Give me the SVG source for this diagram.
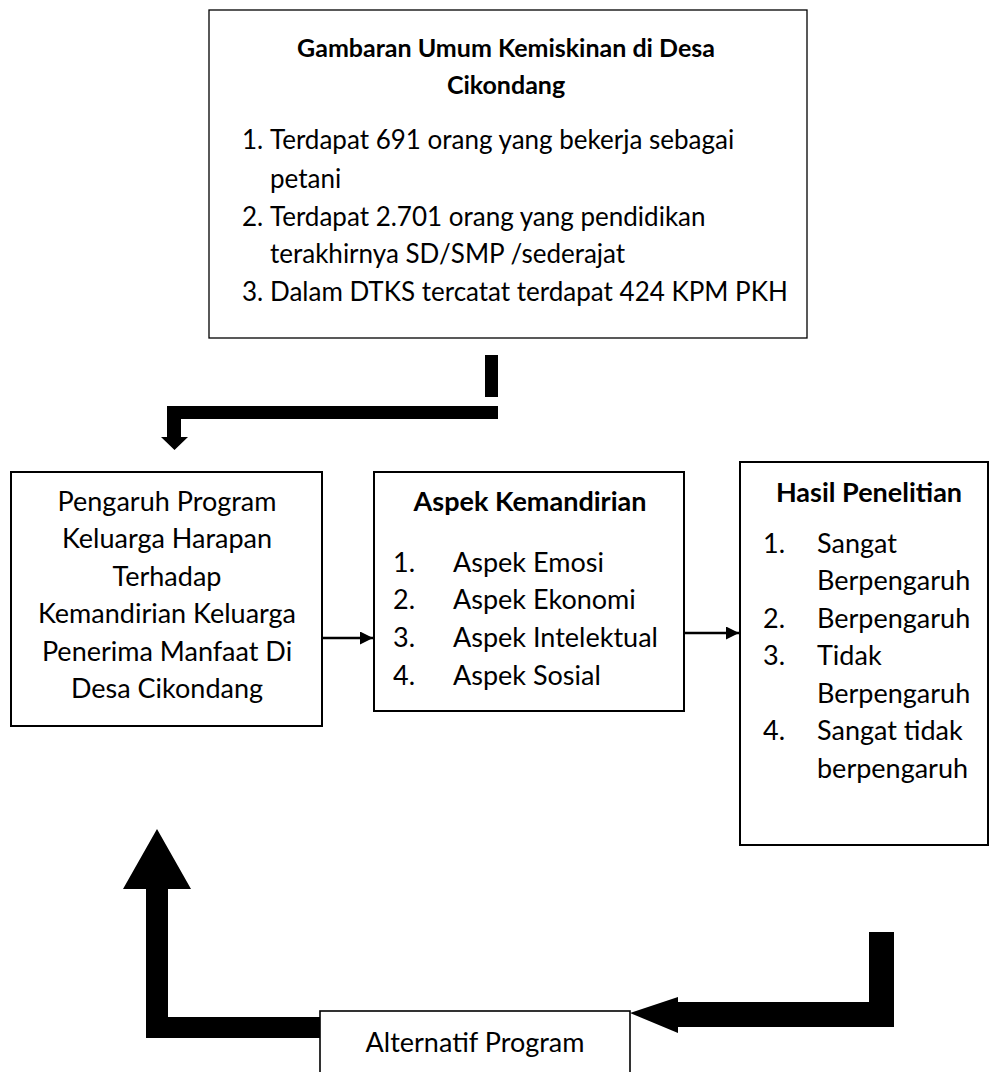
<svg xmlns="http://www.w3.org/2000/svg" width="989" height="1072" viewBox="0 0 989 1072">
<style>
.box{fill:#fff;stroke:#000;stroke-width:2}
.thin{stroke-width:1.3}
.t{font-family:Lato,"Open Sans","Liberation Sans",sans-serif;font-size:27px;fill:#000}
.s{font-size:26px}
.h{font-size:25px}
.b{font-weight:bold}
.m{text-anchor:middle}
.ln{stroke:#000;stroke-width:2.6;fill:none}
.blk{fill:#000;stroke:none}
</style>
<defs>
<marker id="ah" viewBox="0 0 10 10" refX="10" refY="5" markerWidth="6" markerHeight="5" markerUnits="strokeWidth" orient="auto">
<path d="M0,0 L10,5 L0,10 Z" fill="#000"/>
</marker>
</defs>
<rect width="989" height="1072" fill="#fff"/>
<g id="connectors">
<rect class="blk" x="485" y="355" width="13" height="42"/>
<path class="blk" d="M498,406 L167,406 L167,437 L161,437 L174.5,450 L188,437 L181,437 L181,419 L498,419 Z"/>
<line class="ln" x1="322" y1="638" x2="373" y2="638" marker-end="url(#ah)"/>
<line class="ln" x1="684" y1="633" x2="739" y2="633" marker-end="url(#ah)"/>
<path class="blk" d="M869,932 L894,932 L894,1027 L678,1027 L678,1033 L630,1013 L678,997 L678,1002 L869,1002 Z"/>
<path class="blk" d="M320,1017 L168,1017 L168,889 L191,889 L157,829 L123,889 L146,889 L146,1038 L320,1038 Z"/>
</g>
<g id="node-gambaran">
<rect class="box thin" x="209" y="10" width="598" height="328"/>
<text class="t h b m" x="506" y="57">Gambaran Umum Kemiskinan di Desa</text>
<text class="t h b m" x="506" y="94">Cikondang</text>
<text class="t s" x="242" y="149">1.</text>
<text class="t s" x="270" y="149">Terdapat 691 orang yang bekerja sebagai</text>
<text class="t s" x="270" y="188">petani</text>
<text class="t s" x="242" y="226">2.</text>
<text class="t s" x="270" y="226">Terdapat 2.701 orang yang pendidikan</text>
<text class="t s" x="270" y="263">terakhirnya SD/SMP /sederajat</text>
<text class="t s" x="242" y="301">3.</text>
<text class="t s" x="270" y="301">Dalam DTKS tercatat terdapat 424 KPM PKH</text>
</g>
<g id="node-pengaruh">
<rect class="box" x="11" y="472" width="311" height="254"/>
<text class="t m" x="167" y="511">Pengaruh Program</text>
<text class="t m" x="167" y="548">Keluarga Harapan</text>
<text class="t m" x="167" y="586">Terhadap</text>
<text class="t m" x="167" y="623">Kemandirian Keluarga</text>
<text class="t m" x="167" y="661">Penerima Manfaat Di</text>
<text class="t m" x="167" y="698">Desa Cikondang</text>
</g>
<g id="node-aspek">
<rect class="box" x="374" y="472" width="310" height="239"/>
<text class="t b m" x="530" y="511">Aspek Kemandirian</text>
<text class="t" x="393" y="572">1.</text>
<text class="t" x="453" y="572">Aspek Emosi</text>
<text class="t" x="393" y="609">2.</text>
<text class="t" x="453" y="609">Aspek Ekonomi</text>
<text class="t" x="393" y="647">3.</text>
<text class="t" x="453" y="647">Aspek Intelektual</text>
<text class="t" x="393" y="685">4.</text>
<text class="t" x="453" y="685">Aspek Sosial</text>
</g>
<g id="node-hasil">
<rect class="box" x="740" y="462" width="248" height="383"/>
<text class="t b m" x="869" y="502">Hasil Penelitian</text>
<text class="t" x="763" y="553">1.</text>
<text class="t" x="817" y="553">Sangat</text>
<text class="t" x="817" y="590">Berpengaruh</text>
<text class="t" x="763" y="628">2.</text>
<text class="t" x="817" y="628">Berpengaruh</text>
<text class="t" x="763" y="665">3.</text>
<text class="t" x="817" y="665">Tidak</text>
<text class="t" x="817" y="703">Berpengaruh</text>
<text class="t" x="763" y="740">4.</text>
<text class="t" x="817" y="740">Sangat tidak</text>
<text class="t" x="817" y="778">berpengaruh</text>
</g>
<g id="node-alternatif">
<rect class="box" x="320" y="1011" width="310" height="70" style="stroke-width:1.6"/>
<text class="t m" x="475" y="1052">Alternatif Program</text>
</g>
</svg>
